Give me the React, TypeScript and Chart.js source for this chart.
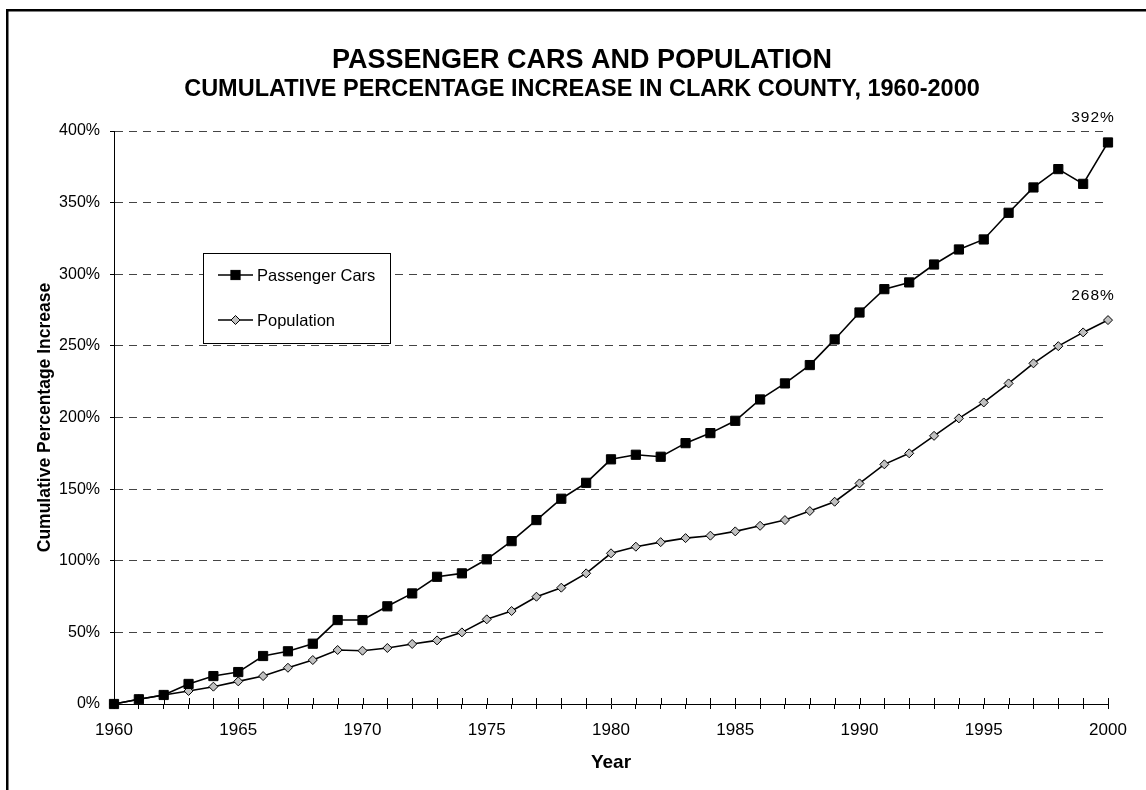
import React, { useEffect, useRef } from 'react';
import { Chart, registerables } from 'chart.js';

Chart.register(...registerables);

const FONT = '"Liberation Sans", Arial, Helvetica, sans-serif';

const years = [
  1960, 1961, 1962, 1963, 1964, 1965, 1966, 1967, 1968, 1969,
  1970, 1971, 1972, 1973, 1974, 1975, 1976, 1977, 1978, 1979,
  1980, 1981, 1982, 1983, 1984, 1985, 1986, 1987, 1988, 1989,
  1990, 1991, 1992, 1993, 1994, 1995, 1996, 1997, 1998, 1999,
  2000,
];

const passengerCars = [
  0, 3.3, 6.3, 14, 19.5, 22.3, 33.5, 36.8, 42.1, 58.6,
  58.6, 68.2, 77.2, 88.8, 91.2, 101, 113.7, 128.4, 143.3, 154.4,
  170.8, 174, 172.6, 182.1, 189.1, 197.7, 212.6, 223.8, 236.6, 254.5,
  273.3, 289.6, 294.3, 306.8, 317.3, 324.3, 342.9, 360.6, 373.4, 363.1,
  392,
];

const population = [
  0, 3.3, 6.3, 9.1, 12.1, 15.8, 19.5, 25.3, 30.7, 37.7,
  37.2, 39.1, 41.9, 44.4, 50, 59.1, 64.9, 74.9, 81.2, 91.2,
  105.2, 109.8, 113, 115.8, 117.5, 120.5, 124.4, 128.4, 134.7, 141.2,
  154, 167.3, 175, 187.2, 199.4, 210.5, 223.8, 237.8, 249.8, 259.4,
  268,
];

const seriesNames = ['Passenger Cars', 'Population'];
const endLabels = ['392%', '268%'];
const yTickStep = 50;
const yMax = 400;
const xLabelEvery = 5;

const titleText = 'PASSENGER CARS AND POPULATION';
const subtitleText = 'CUMULATIVE PERCENTAGE INCREASE IN CLARK COUNTY, 1960-2000';
const xTitle = 'Year';
const yTitle = 'Cumulative Percentage Increase';

function drawMarker(ctx: CanvasRenderingContext2D, kind: string, x: number, y: number) {
  ctx.save();
  ctx.lineWidth = 1;
  ctx.strokeStyle = '#000';
  if (kind === 'square') {
    const h = 4.6;
    ctx.fillStyle = '#000';
    ctx.fillRect(x - h, y - h, 2 * h, 2 * h);
    ctx.strokeRect(x - h, y - h, 2 * h, 2 * h);
  } else {
    ctx.fillStyle = '#c0c0c0';
    const r = 4.5;
    ctx.beginPath();
    ctx.moveTo(x, y - r);
    ctx.lineTo(x + r, y);
    ctx.lineTo(x, y + r);
    ctx.lineTo(x - r, y);
    ctx.closePath();
    ctx.fill();
    ctx.stroke();
  }
  ctx.restore();
}

const decorPlugin = {
  id: 'decor',
  beforeDraw(chart: any) {
    const { ctx } = chart;
    ctx.save();
    ctx.strokeStyle = '#000';
    ctx.lineWidth = 2.5;
    ctx.strokeRect(7.25, 10.25, 1400, 1000);
    ctx.restore();
  },
  beforeDatasetsDraw(chart: any) {
    const { ctx, chartArea } = chart;
    const x = chart.scales.x;
    ctx.save();
    ctx.strokeStyle = '#000';
    ctx.lineWidth = 1;
    for (let i = 0; i < years.length; i++) {
      const px = Math.round(x.getPixelForValue(i)) + 0.5;
      ctx.beginPath();
      ctx.moveTo(px, chartArea.bottom - 6);
      ctx.lineTo(px, chartArea.bottom);
      ctx.stroke();
    }
    ctx.restore();
  },
  afterDraw(chart: any) {
    const { ctx } = chart;
    ctx.save();
    // end-of-series labels
    ctx.fillStyle = '#000';
    ctx.font = `15.5px ${FONT}`;
    (ctx as any).letterSpacing = '1px';
    ctx.textAlign = 'center';
    ctx.textBaseline = 'middle';
    chart.data.datasets.forEach((_ds: any, i: number) => {
      const meta = chart.getDatasetMeta(i);
      const pt = meta.data[meta.data.length - 1];
      ctx.fillText(endLabels[i], pt.x - 15, pt.y - 24.5);
    });
    (ctx as any).letterSpacing = '0px';

    // legend box
    ctx.fillStyle = '#fff';
    ctx.fillRect(203.5, 253.5, 187, 90);
    ctx.strokeStyle = '#000';
    ctx.lineWidth = 1;
    ctx.strokeRect(203.5, 253.5, 187, 90);
    ctx.font = `16.5px ${FONT}`;
    ctx.textAlign = 'left';
    chart.data.datasets.forEach((ds: any, i: number) => {
      const y = 275 + i * 45;
      ctx.beginPath();
      ctx.lineWidth = 1.5;
      ctx.strokeStyle = '#000';
      ctx.moveTo(218, y);
      ctx.lineTo(253, y);
      ctx.stroke();
      drawMarker(ctx, i === 0 ? 'square' : 'diamond', 235.5, y);
      ctx.fillStyle = '#000';
      ctx.fillText(ds.label, 257, y + 1);
    });
    ctx.restore();
  },
};

export default function App() {
  const canvasRef = useRef<HTMLCanvasElement | null>(null);

  useEffect(() => {
    const canvas = canvasRef.current;
    if (!canvas) return;
    const chart = new Chart(canvas, {
      type: 'line',
      data: {
        labels: years.map(String),
        datasets: [
          {
            label: seriesNames[0],
            data: passengerCars,
            borderColor: '#000',
            borderWidth: 1.6,
            pointStyle: 'rect',
            pointRadius: 6.5,
            pointBackgroundColor: '#000',
            pointBorderColor: '#000',
            pointBorderWidth: 1,
            tension: 0,
            clip: false as any,
          },
          {
            label: seriesNames[1],
            data: population,
            borderColor: '#000',
            borderWidth: 1.6,
            pointStyle: 'rectRot',
            pointRadius: 4.5,
            pointBackgroundColor: '#c0c0c0',
            pointBorderColor: '#000',
            pointBorderWidth: 1,
            tension: 0,
            clip: false as any,
          },
        ],
      },
      options: {
        responsive: false,
        animation: false,
        devicePixelRatio: 1,
        events: [],
        layout: { padding: { left: 56, right: 38, top: 0, bottom: 0 } },
        plugins: {
          legend: { display: false },
          tooltip: { enabled: false },
          title: {
            display: true,
            text: titleText,
            color: '#000',
            font: { family: FONT, size: 27, weight: 'bold', lineHeight: 1 },
            padding: { top: 47.5, bottom: 3.75 },
          },
          subtitle: {
            display: true,
            text: subtitleText,
            color: '#000',
            font: { family: FONT, size: 23.5, weight: 'bold', lineHeight: 1 },
            padding: { top: 0, bottom: 29.25 },
          },
        },
        scales: {
          x: {
            type: 'category',
            offset: false,
            grid: {
              drawOnChartArea: false,
              drawTicks: true,
              tickLength: 5,
              tickColor: '#000',
              tickWidth: 1,
            },
            border: { display: true, color: '#000', width: 1 },
            ticks: {
              autoSkip: false,
              maxRotation: 0,
              minRotation: 0,
              padding: 10.8,
              color: '#000',
              font: { family: FONT, size: 17 },
              callback: (_v: any, i: number) => (years[i] % xLabelEvery === 0 ? String(years[i]) : ''),
            },
            title: {
              display: true,
              text: xTitle,
              color: '#000',
              font: { family: FONT, size: 19, weight: 'bold' },
              padding: { top: 0, bottom: 15.6 },
            },
            afterFit: (s: any) => {
              s.height = 86;
            },
          },
          y: {
            min: 0,
            max: yMax,
            grid: {
              color: (c: any) => (c.tick && c.tick.value === 0 ? 'rgba(0,0,0,0)' : '#444'),
              lineWidth: 1,
              tickLength: 4,
              tickColor: '#000',
              tickWidth: 1,
              tickBorderDash: [],
            } as any,
            border: { display: true, color: '#000', width: 1, dash: [8, 6] },
            ticks: {
              stepSize: yTickStep,
              padding: 10,
              color: '#000',
              font: { family: FONT, size: 16 },
              callback: (v: any) => `${v}%`,
            },
            title: {
              display: true,
              text: yTitle,
              color: '#000',
              font: { family: FONT, size: 17.5, weight: 'bold' },
              padding: { top: 45.5 - 56 - 10.5, bottom: 0 },
            },
            afterFit: (s: any) => {
              s.width = 58;
            },
          },
        },
      },
      plugins: [decorPlugin as any],
    });
    return () => chart.destroy();
  }, []);

  return (
    <div style={{ position: 'fixed', left: 0, top: 0, width: 1146, height: 790, background: '#fff' }}>
      <canvas ref={canvasRef} width={1146} height={790} style={{ display: 'block', width: 1146, height: 790 }} />
    </div>
  );
}
